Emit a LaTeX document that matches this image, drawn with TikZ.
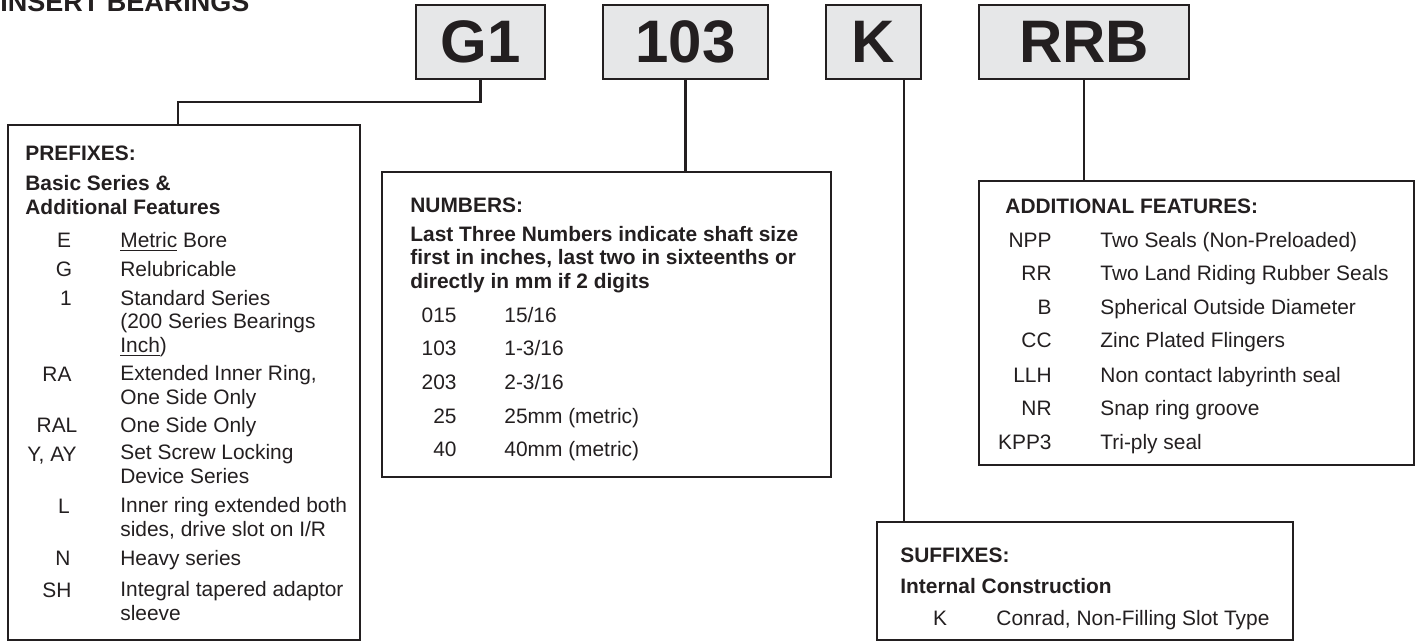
\documentclass[tikz,border=0pt]{standalone}
\usepackage{fontspec}
\setmainfont{Liberation Sans}
\usepackage{tikz}
\usepackage{xcolor}
\usetikzlibrary{
    positioning,
    calc
}
\definecolor{inkDark}{RGB}{35,31,32}
\definecolor{boxGray}{RGB}{230,231,232}
\newcommand{\bodyfont}{\fontsize{10.45}{11.65}\selectfont}
\tikzset{
  codebox/.style = {draw=inkDark, fill=boxGray, line width=1.1pt, inner sep=0pt,
                    minimum height=37pt, text=inkDark,
                    font=\bfseries\fontsize{30}{30}\selectfont},
  infobox/.style = {draw=inkDark, line width=1.1pt, inner sep=0pt},
  head/.style    = {anchor=base west, inner sep=0pt, align=left, text=inkDark,
                    font=\bfseries\bodyfont},
  entry/.style   = {anchor=base west, inner sep=0pt, align=left, text=inkDark,
                    font=\bodyfont},
  code/.style    = {inner sep=0pt, text=inkDark, font=\bodyfont},
  link/.style    = {draw=inkDark, line width=1.1pt}
}

\begin{document}
\begin{tikzpicture}[x=0.5pt,y=-0.5pt]
    \useasboundingbox (0,0) rectangle (1422,642);
    \node[anchor=base west, inner sep=0pt, text=inkDark,
          font=\bfseries\fontsize{13.5}{13.5}\selectfont] (title) at (0,12) {INSERT BEARINGS};

    % part number
    \node[codebox, minimum width=64.5pt] (g1)   at (480.5,42)  {G1};
    \node[codebox, minimum width=82.5pt] (n103) at (685.5,42)  {103};
    \node[codebox, minimum width=47.5pt] (kk)   at (873.5,42)  {K};
    \node[codebox, minimum width=105pt]  (rrb)  at (1084,42)   {RRB};

    % explanation boxes
    \node[infobox, minimum width=176pt,   minimum height=257.5pt] (pre) at (184,382.5)  {};
    \node[infobox, minimum width=224.5pt, minimum height=152.5pt] (num) at (606.5,324.5) {};
    \node[infobox, minimum width=217.5pt, minimum height=142pt]   (add) at (1196.5,323)  {};
    \node[infobox, minimum width=208pt,   minimum height=59pt]    (suf) at (1085,581)    {};

    % connectors
    \coordinate (g1turn) at (178,102);
    \coordinate (ktap) at ($(kk.south)+(30.5,0)$);
    \draw[link] (g1.south) |- (g1turn) -- (g1turn |- pre.north);
    \draw[link] (n103.south) -- (n103.south |- num.north);
    \draw[link] (ktap) -- (ktap |- suf.north);
    \draw[link] (rrb.south) -- (rrb.south |- add.north);

    % prefixes (entry y = baseline of its last line)
    \node[head] (prehead) at (25,160) {PREFIXES:};
    \node[head] (presub)  at (25,214) {Basic Series \&\\Additional Features};
    \foreach \yy/\yd/\cx/\cc/\dd [count=\i] in {
        247/247/64/E/{\underline{Metric} Bore},
        276/276/64/G/Relubricable,
        305/352/66/1/{Standard Series\\(200 Series Bearings\\\underline{Inch})},
        381/404/57/RA/{Extended Inner Ring,\\One Side Only},
        432/432/57/RAL/One Side Only,
        461/483/52/{Y, AY}/{Set Screw Locking\\Device Series},
        513/536/64/L/{Inner ring extended both\\sides, drive slot on I/R},
        565/565/63/N/Heavy series,
        597/620/57/SH/{Integral tapered adaptor\\sleeve}}
    {
        \node[code, anchor=base] (pc\i) at (\cx,\yy) {\cc};
        \node[entry] (pd\i) at (120,\yd) {\dd};
    }

    % numbers
    \node[head] (numhead) at (410,212) {NUMBERS:};
    \node[head] (numsub)  at (410,288) {Last Three Numbers indicate shaft size\\
        first in inches, last two in sixteenths or\\directly in mm if 2 digits};
    \foreach \yy/\cc/\dd [count=\i] in {
        322/015/{15/16}, 355/103/{1-3/16}, 389/203/{2-3/16},
        423/25/25mm (metric), 456/40/40mm (metric)}
    {
        \node[code, anchor=base east] (nc\i) at (457,\yy) {\cc};
        \node[entry] (nd\i) at (504,\yy) {\dd};
    }

    % additional features
    \node[head] (addhead) at (1005,213) {ADDITIONAL FEATURES:};
    \foreach \yy/\cc/\dd [count=\i] in {
        247/NPP/Two Seals (Non-Preloaded),
        280/RR/Two Land Riding Rubber Seals,
        314/B/Spherical Outside Diameter,
        347/CC/Zinc Plated Flingers,
        382/LLH/Non contact labyrinth seal,
        415/NR/Snap ring groove,
        449/KPP3/Tri-ply seal}
    {
        \node[code, anchor=base east] (ac\i) at (1052,\yy) {\cc};
        \node[entry] (ad\i) at (1100,\yy) {\dd};
    }

    % suffixes
    \node[head] (sufhead) at (900,562) {SUFFIXES:};
    \node[head] (sufsub)  at (900,593) {Internal Construction};
    \node[code, anchor=base] (sc1) at (940,625) {K};
    \node[entry] (sd1) at (996,625) {Conrad, Non-Filling Slot Type};
\end{tikzpicture}
\end{document}
